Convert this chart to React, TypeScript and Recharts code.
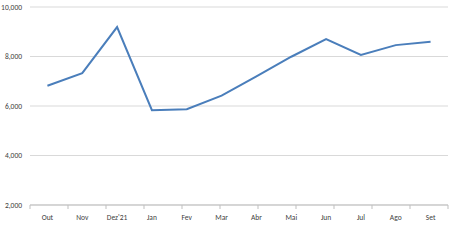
import React from "react";
import { LineChart, Line, XAxis, YAxis, CartesianGrid } from "recharts";

const months = ["Out", "Nov", "Dez'21", "Jan", "Fev", "Mar", "Abr", "Mai", "Jun", "Jul", "Ago", "Set"];
const values = [6820, 7330, 9190, 5830, 5870, 6420, 7200, 7990, 8700, 8060, 8460, 8600];
const yTicks = [2000, 4000, 6000, 8000, 10000];
const edgeTicks = [0, 1, 2, 3, 4, 5, 6, 7, 8, 9, 10, 11, 12];

const data = months.map((m, i) => ({ month: m, value: values[i] }));

const FONT = "Carlito, 'Liberation Sans', 'Open Sans', sans-serif";

const EmptyTick = () => <g />;

export default function App() {
  return (
    <div style={{ position: "absolute", left: 0, top: 0, background: "#fff" }}>
      <LineChart width={450} height={247} data={data} margin={{ top: 7, right: 2, left: 0, bottom: 22 }}>
        <CartesianGrid horizontal vertical={false} stroke="#d9d9d9" strokeWidth={1} xAxisId="months" />
        <XAxis
          xAxisId="edges"
          type="number"
          domain={[0, 12]}
          ticks={edgeTicks}
          allowDataOverflow
          height={4}
          interval={0}
          tick={<EmptyTick />}
          tickSize={4}
          tickMargin={0}
          axisLine={{ stroke: "#bfbfbf" }}
          tickLine={{ stroke: "#bfbfbf" }}
        />
        <XAxis
          xAxisId="months"
          dataKey="month"
          scale="band"
          height={16}
          interval={0}
          axisLine={false}
          tickLine={false}
          tickSize={0}
          tickMargin={6}
          tick={{ fontSize: 7.5, fill: "#404040", fontFamily: FONT }}
        />
        <YAxis
          width={30}
          domain={[2000, 10000]}
          ticks={yTicks}
          axisLine={false}
          tickLine={false}
          tickSize={0}
          tickMargin={8}
          tick={{ fontSize: 7.5, fill: "#404040", fontFamily: FONT }}
          tickFormatter={(v: number) => v.toLocaleString("en-US")}
        />
        <Line
          xAxisId="months"
          type="linear"
          dataKey="value"
          stroke="#4a7ebb"
          strokeWidth={2}
          dot={false}
          isAnimationActive={false}
        />
      </LineChart>
    </div>
  );
}
